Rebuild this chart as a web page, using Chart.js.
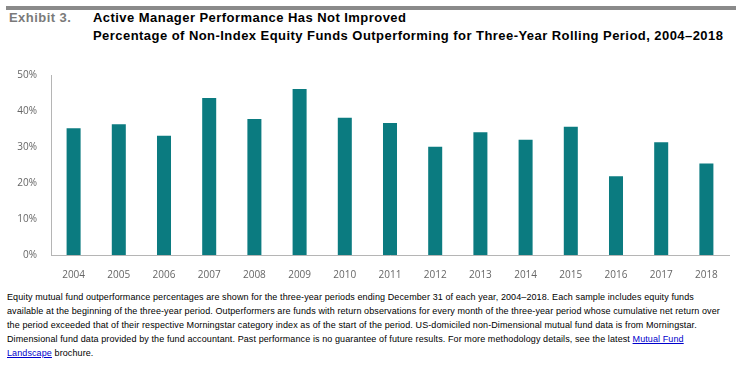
<!DOCTYPE html>
<html>
<head>
<meta charset="utf-8">
<script src="https://cdn.jsdelivr.net/npm/chart.js@4"></script>
<style>
  body { margin: 0; width: 744px; height: 372px; background: #fff; position: relative; overflow: hidden; font-family: "Liberation Sans", Arial, sans-serif; }
  .rule { position: absolute; left: 6px; top: 6px; width: 730px; height: 4px; background: #8a8a8a; }
  .exhibit { position: absolute; left: 9px; top: 9px; font-size: 13px; letter-spacing: 0.45px; font-weight: bold; color: #7a7a7a; line-height: 18px; }
  .title { position: absolute; left: 93px; top: 9px; font-size: 13px; letter-spacing: 0.45px; font-weight: bold; color: #000; line-height: 18px; white-space: nowrap; }
  .chart-box { position: absolute; left: 0; top: 55px; width: 744px; height: 230px; }
  .note { position: absolute; left: 7px; top: 290px; font-size: 9px; letter-spacing: 0.1px; line-height: 14px; color: #000; white-space: nowrap; }
  .note a { color: #0000cc; text-decoration: underline; }
</style>
</head>
<body>
<div class="rule"></div>
<div class="exhibit">Exhibit 3.</div>
<div class="title">Active Manager Performance Has Not Improved<br>Percentage of Non-Index Equity Funds Outperforming for Three-Year Rolling Period, 2004–2018</div>
<div class="chart-box"><canvas id="chart"></canvas></div>
<div class="note">Equity mutual fund outperformance percentages are shown for the three-year periods ending December 31 of each year, 2004–2018. Each sample includes equity funds<br>available at the beginning of the three-year period. Outperformers are funds with return observations for every month of the three-year period whose cumulative net return over<br>the period exceeded that of their respective Morningstar category index as of the start of the period. US-domiciled non-Dimensional mutual fund data is from Morningstar.<br>Dimensional fund data provided by the fund accountant. Past performance is no guarantee of future results. For more methodology details, see the latest <a href="#">Mutual Fund<br>Landscape</a> brochure.</div>
<script>
const years = ['2004', '2005', '2006', '2007', '2008', '2009', '2010', '2011', '2012', '2013', '2014', '2015', '2016', '2017', '2018'];
const outperforming = [35.2, 36.3, 33.1, 43.6, 37.8, 46.1, 38.1, 36.7, 30.1, 34.1, 32.0, 35.6, 21.9, 31.3, 25.4];
const yTicks = [0, 10, 20, 30, 40, 50];

const tickFont = { family: '"Open Sans", sans-serif', size: 10 };

new Chart(document.getElementById('chart'), {
  type: 'bar',
  data: {
    labels: years,
    datasets: [{
      data: outperforming,
      backgroundColor: '#0b7b80',
      barPercentage: 0.31,
      categoryPercentage: 1.0,
    }],
  },
  options: {
    responsive: true,
    maintainAspectRatio: false,
    animation: false,
    layout: { padding: { top: 12, right: 15, left: 0, bottom: 0 } },
    plugins: { legend: { display: false }, tooltip: { enabled: false } },
    scales: {
      x: {
        grid: { display: false, drawTicks: false },
        border: { display: true, color: '#b5b5b5', width: 1 },
        ticks: { color: '#666', font: tickFont, padding: 14, maxRotation: 0 },
        afterFit: (scale) => { scale.height = 30; },
      },
      y: {
        min: 0,
        max: 50,
        afterBuildTicks: (scale) => { scale.ticks = yTicks.map((v) => ({ value: v })); },
        grid: { display: false, drawTicks: false },
        border: { display: true, color: '#b5b5b5', width: 1 },
        ticks: { color: '#666', font: tickFont, padding: 14, callback: (v) => v + '%' },
        afterFit: (scale) => { scale.width = 51; },
      },
    },
  },
});
</script>
</body>
</html>
